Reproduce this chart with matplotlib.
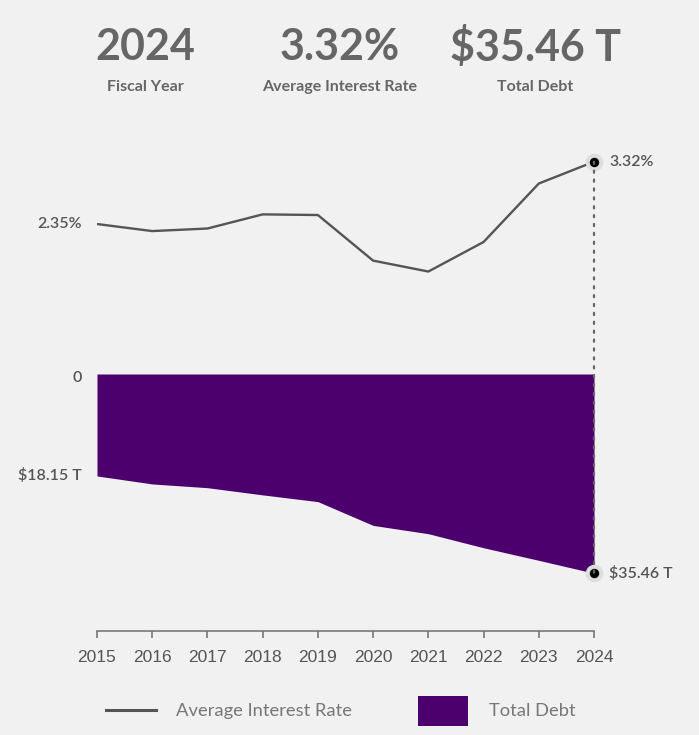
import matplotlib
matplotlib.use("Agg")
import matplotlib.pyplot as plt
from matplotlib.lines import Line2D
from matplotlib.patches import Rectangle, ConnectionPatch

years = [2015, 2016, 2017, 2018, 2019, 2020, 2021, 2022, 2023, 2024]
avg_rate = [2.35, 2.24, 2.28, 2.50, 2.49, 1.78, 1.61, 2.07, 2.98, 3.32]
total_debt = [18.15, 19.57, 20.24, 21.52, 22.72, 26.95, 28.43, 30.93, 33.17, 35.46]

BG = "#f1f1f1"
PURPLE = "#4b006e"
LINE = "#555555"
FONT = "Lato"

W, H = 699, 735
fig = plt.figure(figsize=(W / 100, H / 100), dpi=100, facecolor=BG)

def fx(px):
    return px / W

def fy(py):
    return 1 - py / H

x0, x1 = 97, 594
ax_rate = fig.add_axes([fx(x0), fy(300), fx(x1 - x0), (300 - 140) / H])
ax_debt = fig.add_axes([fx(x0), fy(631), fx(x1 - x0), (631 - 374) / H])
for ax in (ax_rate, ax_debt):
    ax.set_facecolor("none")
    ax.set_xlim(years[0], years[-1])

# Rate line
ax_rate.plot(years, avg_rate, color=LINE, lw=1.7, solid_capstyle="butt", zorder=3)
ax_rate.set_ylim(1.167, 3.658)
ax_rate.axis("off")

# Debt area (inverted)
ax_debt.fill_between(years, 0, total_debt, color=PURPLE, lw=0, zorder=2)
ax_debt.set_ylim(45.75, 0)
for s in ("left", "right", "top"):
    ax_debt.spines[s].set_visible(False)
ax_debt.spines["bottom"].set_color("#777777")
ax_debt.spines["bottom"].set_linewidth(1.2)
ax_debt.set_yticks([])
ax_debt.set_xticks(years)
ax_debt.set_xticklabels([str(y) for y in years], fontsize=12.5, color="#555555",
                        family="Liberation Sans")
ax_debt.tick_params(axis="x", length=5, width=1.2, color="#777777", pad=9)

# Dotted connector
con = ConnectionPatch(xyA=(years[-1], avg_rate[-1]), coordsA=ax_rate.transData,
                      xyB=(years[-1], total_debt[-1]), coordsB=ax_debt.transData,
                      color="#666666", lw=1.6, linestyle=(0, (1, 3)), zorder=1)
fig.add_artist(con)

# End markers
for ax, val in ((ax_rate, avg_rate[-1]), (ax_debt, total_debt[-1])):
    ax.scatter([years[-1]], [val], s=160, color="#dedede", clip_on=False, zorder=4, lw=0)
    ax.scatter([years[-1]], [val], s=46, color="black", clip_on=False, zorder=5, lw=0)

lab = dict(fontsize=11.5, color="#555555", family=FONT, fontweight=600, va="center")
ax_rate.annotate(f"{avg_rate[0]:.2f}%", (years[0], avg_rate[0]), xytext=(-11, 0),
                 textcoords="offset points", ha="right", **lab)
ax_rate.annotate(f"{avg_rate[-1]:.2f}%", (years[-1], avg_rate[-1]), xytext=(11, 0),
                 textcoords="offset points", ha="left", annotation_clip=False, **lab)
ax_debt.annotate("0", (years[0], 0), xytext=(-11, -3),
                 textcoords="offset points", ha="right", annotation_clip=False, **lab)
ax_debt.annotate(f"${total_debt[0]:.2f} T", (years[0], total_debt[0]), xytext=(-11, 0),
                 textcoords="offset points", ha="right", annotation_clip=False, **lab)
ax_debt.annotate(f"${total_debt[-1]:.2f} T", (years[-1], total_debt[-1]), xytext=(11, 0),
                 textcoords="offset points", ha="left", annotation_clip=False, **lab)

# Header KPIs
kpis = [(145, "2024", "Fiscal Year"),
        (340, f"{avg_rate[-1]:.2f}%", "Average Interest Rate"),
        (535, f"${total_debt[-1]:.2f} T", "Total Debt")]
for cx, big, small in kpis:
    fig.text(fx(cx), fy(47), big, ha="center", va="center", fontsize=31,
             fontweight="bold", color="#666666", family=FONT)
    fig.text(fx(cx), fy(87), small, ha="center", va="center", fontsize=11.5,
             fontweight="bold", color="#666666", family=FONT)

# Legend
fig.add_artist(Line2D([fx(106), fx(156)], [fy(710), fy(710)], color=LINE, lw=2.2))
fig.text(fx(176), fy(711), "Average Interest Rate", ha="left", va="center",
         fontsize=13.2, color="#777777", family=FONT)
fig.add_artist(Rectangle((fx(418), fy(726)), fx(50), (726 - 696) / H,
                         color=PURPLE, lw=0, transform=fig.transFigure))
fig.text(fx(489), fy(711), "Total Debt", ha="left", va="center",
         fontsize=13.2, color="#777777", family=FONT)

fig.savefig("out.png", dpi=100, facecolor=BG)
